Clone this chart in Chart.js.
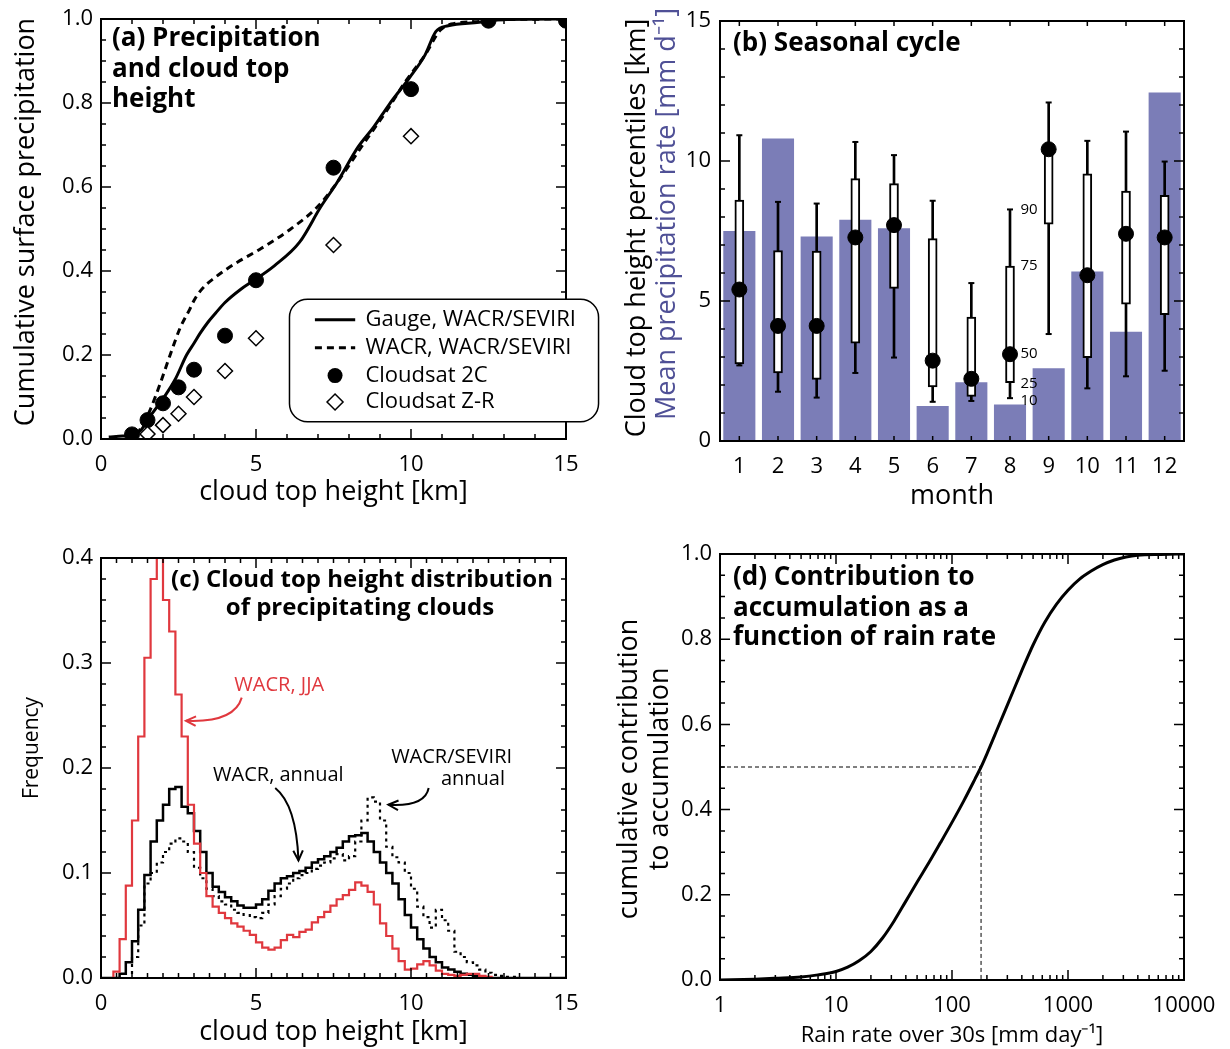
<!DOCTYPE html>
<html>
<head>
<meta charset="utf-8">
<title>Precipitation and cloud top height</title>
<script src="https://cdn.jsdelivr.net/npm/chart.js@4.4.1/dist/chart.umd.min.js"></script>
<style>
  html, body { margin: 0; padding: 0; background: #fff; }
  #page { position: relative; width: 1230px; height: 1049px; overflow: hidden; }
  #page canvas { position: absolute; }
</style>
</head>
<body>
<div id="page">
  <canvas id="panelA" width="615" height="530" style="left:0px;top:0px"></canvas>
  <canvas id="panelB" width="615" height="530" style="left:615px;top:0px"></canvas>
  <canvas id="panelC" width="615" height="519" style="left:0px;top:530px"></canvas>
  <canvas id="panelD" width="615" height="519" style="left:615px;top:530px"></canvas>
</div>
<script>
// ---------- (a) cumulative precipitation vs cloud top height ----------
var gaugeKm   = [0.25, 0.7, 1.05, 1.3, 1.5, 2.0, 2.4, 2.76, 3.0, 3.2, 3.45, 3.7, 4.0, 4.5, 4.9, 5.6, 6.4, 7.1, 7.6, 8.3, 8.8, 9.3, 9.95, 10.45, 10.8, 11.2, 12.2, 12.8, 15];
var gaugeFrac = [0.005, 0.007, 0.01, 0.022, 0.045, 0.096, 0.143, 0.2, 0.228, 0.252, 0.278, 0.30, 0.325, 0.356, 0.376, 0.413, 0.468, 0.554, 0.609, 0.696, 0.743, 0.797, 0.86, 0.914, 0.97, 0.984, 0.992, 0.998, 1.0];
var wacrKm    = [1.15, 1.4, 1.58, 1.9, 2.23, 2.55, 2.87, 3.0, 3.2, 3.4, 3.65, 4.0, 4.4, 5.13, 6.1, 7.0, 7.6, 8.47, 9.2, 9.83, 10.45, 10.94, 11.3, 12.2, 12.8, 15];
var wacrFrac  = [0.01, 0.04, 0.068, 0.13, 0.2, 0.264, 0.31, 0.33, 0.352, 0.368, 0.383, 0.402, 0.421, 0.452, 0.499, 0.554, 0.609, 0.703, 0.78, 0.852, 0.914, 0.973, 0.988, 0.994, 0.998, 1.0];
var sat2cKm   = [1.0, 1.5, 2.0, 2.5, 3.0, 4.0, 5.0, 7.5, 10.0, 12.5, 15.0];
var sat2cFrac = [0.011, 0.045, 0.085, 0.123, 0.165, 0.246, 0.378, 0.646, 0.833, 0.996, 0.996];
var satZrKm   = [1.5, 2.0, 2.5, 3.0, 4.0, 5.0, 7.5, 10.0];
var satZrFrac = [0.012, 0.033, 0.06, 0.10, 0.162, 0.24, 0.462, 0.721];

// ---------- (b) seasonal cycle ----------
var months     = ['1', '2', '3', '4', '5', '6', '7', '8', '9', '10', '11', '12'];
var precipRate = [7.5, 10.8, 7.3, 7.9, 7.6, 1.25, 2.1, 1.3, 2.6, 6.05, 3.9, 12.45];
var cth10 = [2.7, 1.76, 1.55, 2.43, 2.98, 1.40, 1.43, 1.53, 3.82, 1.88, 2.31, 2.51];
var cth25 = [2.75, 2.43, 2.2, 3.49, 5.45, 1.93, 1.59, 2.08, 7.74, 2.98, 4.89, 4.51];
var cth50 = [5.41, 4.11, 4.11, 7.27, 7.71, 2.87, 2.22, 3.10, 10.42, 5.92, 7.40, 7.27];
var cth75 = [8.6, 6.8, 6.78, 9.37, 9.19, 7.23, 4.43, 6.25, 10.6, 9.54, 8.93, 8.77];
var cth90 = [10.92, 8.54, 8.48, 10.68, 10.21, 8.58, 5.64, 8.27, 12.09, 10.72, 11.05, 9.98];
var pctLabels = ['90', '75', '50', '25', '10'];

// ---------- (c) cloud top height distribution (0.2 km bins, left edges) ----------
var binLeft = [0, 0.2, 0.4, 0.6, 0.8, 1.0, 1.2, 1.4, 1.6, 1.8, 2.0, 2.2, 2.4, 2.6, 2.8, 3.0, 3.2, 3.4, 3.6, 3.8,
  4.0, 4.2, 4.4, 4.6, 4.8, 5.0, 5.2, 5.4, 5.6, 5.8, 6.0, 6.2, 6.4, 6.6, 6.8, 7.0, 7.2, 7.4, 7.6, 7.8,
  8.0, 8.2, 8.4, 8.6, 8.8, 9.0, 9.2, 9.4, 9.6, 9.8, 10.0, 10.2, 10.4, 10.6, 10.8, 11.0, 11.2, 11.4, 11.6, 11.8,
  12.0, 12.2, 12.4, 12.6, 12.8, 13.0, 13.2, 13.4, 13.6, 13.8, 14.0, 14.2, 14.4, 14.6, 14.8, 15.0];
var freqJJA = [0, 0, 0.006, 0.037, 0.088, 0.15, 0.23, 0.305, 0.38, 0.40, 0.36, 0.33, 0.27, 0.23, 0.165, 0.128, 0.10, 0.078, 0.068, 0.062,
  0.057, 0.052, 0.049, 0.045, 0.041, 0.034, 0.029, 0.027, 0.029, 0.036, 0.041, 0.039, 0.044, 0.046, 0.053, 0.058, 0.063, 0.069, 0.075, 0.079,
  0.084, 0.091, 0.088, 0.082, 0.07, 0.052, 0.04, 0.028, 0.016, 0.008, 0.009, 0.013, 0.016, 0.012, 0.007, 0.004, 0.003, 0.002, 0.003, 0.004,
  0.004, 0.002, 0.001, 0, 0, 0, 0, 0, 0, 0, 0, 0, 0, 0, 0, 0];
var freqAnnual = [0, 0, 0, 0.004, 0.015, 0.035, 0.065, 0.098, 0.13, 0.15, 0.165, 0.18, 0.182, 0.163, 0.157, 0.14, 0.12, 0.10, 0.087, 0.082,
  0.077, 0.073, 0.069, 0.067, 0.067, 0.07, 0.075, 0.083, 0.09, 0.095, 0.097, 0.1, 0.102, 0.105, 0.11, 0.113, 0.116, 0.12, 0.124, 0.13,
  0.135, 0.136, 0.138, 0.13, 0.12, 0.11, 0.1, 0.09, 0.075, 0.06, 0.048, 0.037, 0.028, 0.02, 0.015, 0.01, 0.008, 0.006, 0.004, 0.003,
  0.002, 0.001, 0, 0, 0, 0, 0, 0, 0, 0, 0, 0, 0, 0, 0, 0];
var freqSeviri = [0, 0, 0, 0, 0, 0.02, 0.05, 0.09, 0.1, 0.11, 0.12, 0.128, 0.133, 0.13, 0.12, 0.105, 0.095, 0.085, 0.078, 0.073,
  0.07, 0.065, 0.062, 0.06, 0.058, 0.057, 0.062, 0.07, 0.078, 0.085, 0.09, 0.095, 0.098, 0.1, 0.104, 0.107, 0.11, 0.114, 0.118, 0.112,
  0.116, 0.13, 0.15, 0.172, 0.168, 0.15, 0.125, 0.115, 0.11, 0.1, 0.085, 0.068, 0.058, 0.048, 0.065, 0.055, 0.045, 0.025, 0.02, 0.015,
  0.012, 0.008, 0.005, 0.003, 0.002, 0.001, 0.001, 0, 0, 0, 0, 0, 0, 0, 0, 0];

// ---------- (d) contribution to accumulation ----------
var rainRate   = [1, 2, 3, 5, 7, 10, 12.6, 15.8, 20, 25.1, 31.6, 39.8, 50.1, 63.1, 79.4, 100, 126, 158, 178, 200,
  251, 316, 398, 501, 631, 794, 1000, 1259, 1585, 1995, 2512, 3162, 3981, 6310, 10000];
var contribCum = [0, 0.002, 0.004, 0.007, 0.012, 0.02, 0.03, 0.045, 0.067, 0.098, 0.138, 0.184, 0.23, 0.275, 0.322, 0.37, 0.42, 0.472, 0.5, 0.531,
  0.595, 0.66, 0.725, 0.787, 0.84, 0.882, 0.915, 0.941, 0.96, 0.975, 0.986, 0.993, 0.997, 0.999, 1.0];
var halfRate = 178;

// tick values
var kmMajor = [0, 5, 10, 15];
var kmMinor = [1, 2, 3, 4, 6, 7, 8, 9, 11, 12, 13, 14];
var kmHalfMinor = [0.5, 1, 1.5, 2, 2.5, 3, 3.5, 4, 4.5, 5.5, 6, 6.5, 7, 7.5, 8, 8.5, 9, 9.5, 10.5, 11, 11.5, 12, 12.5, 13, 13.5, 14, 14.5];
var fracMajor = [0, 0.2, 0.4, 0.6, 0.8, 1.0];
var fracMinor = [0.05, 0.1, 0.15, 0.25, 0.3, 0.35, 0.45, 0.5, 0.55, 0.65, 0.7, 0.75, 0.85, 0.9, 0.95];
var freqMajor = [0, 0.1, 0.2, 0.3, 0.4];
var freqMinor = [0.02, 0.04, 0.06, 0.08, 0.12, 0.14, 0.16, 0.18, 0.22, 0.24, 0.26, 0.28, 0.32, 0.34, 0.36, 0.38];
var cthMajor = [0, 5, 10, 15];
var rateMajor = [1, 10, 100, 1000, 10000];
var rateMinor = [2, 3, 4, 5, 6, 7, 8, 9, 20, 30, 40, 50, 60, 70, 80, 90, 200, 300, 400, 500, 600, 700, 800, 900,
  2000, 3000, 4000, 5000, 6000, 7000, 8000, 9000];

var RED = '#e0383e';
var BAR = '#7b7db7';
var BLUE_TEXT = '#4f5096';
var FONT = '"Open Sans", sans-serif';

Chart.defaults.font.family = FONT;
Chart.defaults.color = '#000';

function pairs(xs, ys) {
  return xs.map(function (x, i) { return { x: x, y: ys[i] }; });
}
function useTicks(values) {
  return function (scale) { scale.ticks = values.map(function (v) { return { value: v }; }); };
}
// fixed axis size, no extra room for overhanging end labels
function fixWidth(w) {
  return function (scale) {
    scale.width = w;
    scale.paddingTop = 0; scale.paddingBottom = 0; scale.paddingLeft = 0; scale.paddingRight = 0;
  };
}
function fixHeight(h) {
  return function (scale) {
    scale.height = h;
    scale.paddingTop = 0; scale.paddingBottom = 0; scale.paddingLeft = 0; scale.paddingRight = 0;
  };
}

// box with inward ticks on all four sides
function frame(xMajor, xMinor, yMajor, yMinor) {
  return {
    id: 'frame',
    afterDatasetsDraw: function (chart) {
      var ctx = chart.ctx, a = chart.chartArea, sx = chart.scales.x, sy = chart.scales.y;
      ctx.save();
      ctx.strokeStyle = '#000';
      ctx.lineWidth = 1.5;
      ctx.beginPath();
      [[xMajor, 10], [xMinor, 5]].forEach(function (set) {
        set[0].forEach(function (v) {
          var p = sx.getPixelForValue(v);
          ctx.moveTo(p, a.bottom); ctx.lineTo(p, a.bottom - set[1]);
          ctx.moveTo(p, a.top); ctx.lineTo(p, a.top + set[1]);
        });
      });
      [[yMajor, 10], [yMinor, 5]].forEach(function (set) {
        set[0].forEach(function (v) {
          var p = sy.getPixelForValue(v);
          ctx.moveTo(a.left, p); ctx.lineTo(a.left + set[1], p);
          ctx.moveTo(a.right, p); ctx.lineTo(a.right - set[1], p);
        });
      });
      ctx.stroke();
      ctx.lineWidth = 2;
      ctx.strokeRect(a.left, a.top, a.right - a.left, a.bottom - a.top);
      ctx.restore();
    }
  };
}

// free text and arrows; positions are data values, chart-area offsets or canvas pixels
function notes(items, arrows) {
  return {
    id: 'notes',
    afterDraw: function (chart) {
      var ctx = chart.ctx, a = chart.chartArea, sx = chart.scales.x, sy = chart.scales.y;
      function place(it) {
        if (it.data) return [sx.getPixelForValue(it.data[0]), sy.getPixelForValue(it.data[1])];
        if (it.area) return [a.left + it.area[0], a.top + it.area[1]];
        return it.at;
      }
      items.forEach(function (it) {
        var p = place(it);
        ctx.save();
        ctx.font = it.font;
        ctx.fillStyle = it.color || '#000';
        ctx.textAlign = it.align || 'center';
        ctx.textBaseline = 'middle';
        ctx.translate(p[0], p[1]);
        if (it.rotate) ctx.rotate(it.rotate * Math.PI / 180);
        ctx.fillText(it.text, 0, 0);
        ctx.restore();
      });
      (arrows || []).forEach(function (ar) {
        var p0 = [sx.getPixelForValue(ar.pts[0][0]), sy.getPixelForValue(ar.pts[0][1])];
        var pc = [sx.getPixelForValue(ar.pts[1][0]), sy.getPixelForValue(ar.pts[1][1])];
        var p1 = [sx.getPixelForValue(ar.pts[2][0]), sy.getPixelForValue(ar.pts[2][1])];
        ctx.save();
        ctx.strokeStyle = ar.color;
        ctx.lineWidth = 2;
        ctx.beginPath();
        ctx.moveTo(p0[0], p0[1]);
        ctx.quadraticCurveTo(pc[0], pc[1], p1[0], p1[1]);
        ctx.stroke();
        var ang = Math.atan2(p1[1] - pc[1], p1[0] - pc[0]);
        ctx.beginPath();
        ctx.moveTo(p1[0] - 11 * Math.cos(ang - 0.45), p1[1] - 11 * Math.sin(ang - 0.45));
        ctx.lineTo(p1[0], p1[1]);
        ctx.lineTo(p1[0] - 11 * Math.cos(ang + 0.45), p1[1] - 11 * Math.sin(ang + 0.45));
        ctx.stroke();
        ctx.restore();
      });
    }
  };
}

var tickFont = { family: FONT, size: 22 };
var titleFont = { family: FONT, size: 27 };
var panelFont = 'bold 26px ' + FONT;
var sideFont = '27px ' + FONT;
var noteFont = '20px ' + FONT;

// legend for panel (a)
var legendA = {
  id: 'legendA',
  afterDraw: function (chart) {
    var ctx = chart.ctx, sx = chart.scales.x, sy = chart.scales.y;
    var left = sx.getPixelForValue(6.08), right = sx.getPixelForValue(16.05);
    var top = sy.getPixelForValue(0.333), bottom = sy.getPixelForValue(0.041);
    var rows = [0.284, 0.217, 0.151, 0.088];
    var names = ['Gauge, WACR/SEVIRI', 'WACR, WACR/SEVIRI', 'Cloudsat 2C', 'Cloudsat Z-R'];
    var s0 = sx.getPixelForValue(6.9), s1 = sx.getPixelForValue(8.2), tx = sx.getPixelForValue(8.53);
    ctx.save();
    ctx.beginPath();
    ctx.roundRect(left, top, right - left, bottom - top, 18);
    ctx.fillStyle = '#fff';
    ctx.fill();
    ctx.lineWidth = 1.5;
    ctx.strokeStyle = '#000';
    ctx.stroke();
    rows.forEach(function (r, i) {
      var y = sy.getPixelForValue(r);
      ctx.strokeStyle = '#000';
      ctx.fillStyle = '#000';
      ctx.lineWidth = 3;
      if (i < 2) {
        ctx.setLineDash(i === 1 ? [7, 5] : []);
        ctx.beginPath(); ctx.moveTo(s0, y); ctx.lineTo(s1, y); ctx.stroke();
        ctx.setLineDash([]);
      } else if (i === 2) {
        ctx.beginPath(); ctx.arc((s0 + s1) / 2, y, 7.5, 0, Math.PI * 2); ctx.fill();
      } else {
        var cx = (s0 + s1) / 2;
        ctx.lineWidth = 1.5;
        ctx.fillStyle = '#fff';
        ctx.beginPath();
        ctx.moveTo(cx, y - 8); ctx.lineTo(cx + 8, y); ctx.lineTo(cx, y + 8); ctx.lineTo(cx - 8, y); ctx.closePath();
        ctx.fill(); ctx.stroke();
      }
      ctx.fillStyle = '#000';
      ctx.font = '22px ' + FONT;
      ctx.textAlign = 'left';
      ctx.textBaseline = 'middle';
      ctx.fillText(names[i], tx, y);
    });
    ctx.restore();
  }
};

// ---------- panel (a) ----------
new Chart(document.getElementById('panelA'), {
  type: 'scatter',
  data: {
    datasets: [
      { data: pairs(gaugeKm, gaugeFrac), showLine: true, borderColor: '#000', borderWidth: 3, pointRadius: 0, cubicInterpolationMode: 'monotone', order: 3 },
      { data: pairs(wacrKm, wacrFrac), showLine: true, borderColor: '#000', borderWidth: 3, borderDash: [7, 5], pointRadius: 0, cubicInterpolationMode: 'monotone', order: 2 },
      { data: pairs(sat2cKm, sat2cFrac), pointRadius: 7.5, pointBackgroundColor: '#000', pointBorderColor: '#000', order: 1 },
      { data: pairs(satZrKm, satZrFrac), pointStyle: 'rectRot', pointRadius: 7.5, pointBackgroundColor: '#fff', pointBorderColor: '#000', pointBorderWidth: 1.5, order: 0 }
    ]
  },
  options: {
    responsive: false,
    animation: false,
    layout: { padding: { top: 19, right: 49, left: 0, bottom: 0 } },
    plugins: { legend: { display: false }, tooltip: { enabled: false } },
    scales: {
      x: {
        type: 'linear', min: 0, max: 15,
        afterBuildTicks: useTicks(kmMajor), afterFit: fixHeight(91),
        grid: { display: false, drawTicks: false }, border: { display: false },
        ticks: { font: tickFont, padding: 13, maxRotation: 0 },
        title: { display: true, text: 'cloud top height [km]', font: titleFont, padding: { top: 21, bottom: 21 } }
      },
      y: {
        type: 'linear', min: 0, max: 1,
        afterBuildTicks: useTicks(fracMajor), afterFit: fixWidth(101),
        grid: { display: false, drawTicks: false }, border: { display: false },
        ticks: { font: tickFont, padding: 8, callback: function (v) { return v.toFixed(1); } }
      }
    }
  },
  plugins: [
    frame(kmMajor, kmMinor, fracMajor, fracMinor),
    notes([
      { text: '(a) Precipitation', area: [11, 20], font: panelFont, align: 'left' },
      { text: 'and cloud top', area: [11, 51], font: panelFont, align: 'left' },
      { text: 'height', area: [11, 81], font: panelFont, align: 'left' },
      { text: 'Cumulative surface precipitation', at: [26, 222], font: sideFont, rotate: -90 }
    ]),
    legendA
  ]
});

// ---------- panel (b) ----------
var monthIdx = months.map(function (m, i) { return i; });
new Chart(document.getElementById('panelB'), {
  type: 'bar',
  data: {
    labels: months,
    datasets: [
      { type: 'bar', data: precipRate, backgroundColor: BAR, barPercentage: 0.83, categoryPercentage: 1, grouped: false, order: 5 },
      { type: 'bar', data: cth10.map(function (v, i) { return [v, cth90[i]]; }), backgroundColor: '#000', barThickness: 2, grouped: false, order: 4 },
      { type: 'bar', data: cth25.map(function (v, i) { return [v, cth75[i]]; }), backgroundColor: '#fff', borderColor: '#000', borderWidth: 2, borderSkipped: false, barThickness: 9, grouped: false, order: 3 },
      { type: 'line', data: cth10, showLine: false, pointStyle: 'line', pointRadius: 3, borderColor: '#000', pointBorderWidth: 2, order: 2 },
      { type: 'line', data: cth90, showLine: false, pointStyle: 'line', pointRadius: 3, borderColor: '#000', pointBorderWidth: 2, order: 2 },
      { type: 'line', data: cth50, showLine: false, pointRadius: 7.5, pointBackgroundColor: '#000', pointBorderColor: '#000', order: 1 }
    ]
  },
  options: {
    responsive: false,
    animation: false,
    layout: { padding: { top: 21, right: 46, left: 0, bottom: 0 } },
    plugins: { legend: { display: false }, tooltip: { enabled: false } },
    scales: {
      x: {
        afterFit: fixHeight(89),
        grid: { display: false, drawTicks: false }, border: { display: false },
        ticks: { font: tickFont, padding: 13, maxRotation: 0, autoSkip: false },
        title: { display: true, text: 'month', font: titleFont, padding: { top: 17, bottom: 17 } }
      },
      y: {
        type: 'linear', min: 0, max: 15,
        afterBuildTicks: useTicks(cthMajor), afterFit: fixWidth(105),
        grid: { display: false, drawTicks: false }, border: { display: false },
        ticks: { font: tickFont, padding: 9 }
      }
    }
  },
  plugins: [
    frame([], monthIdx, cthMajor, kmMinor),
    notes([
      { text: '(b) Seasonal cycle', area: [13, 23], font: panelFont, align: 'left' },
      { text: 'Cloud top height percentiles [km]', at: [22, 228], font: sideFont, rotate: -90 },
      { text: 'Mean precipitation rate [mm d\u207B\u00B9]', at: [52, 214], font: sideFont, rotate: -90, color: BLUE_TEXT },
      { text: pctLabels[0], data: [7.27, cth90[7]], font: '15px ' + FONT, align: 'left' },
      { text: pctLabels[1], data: [7.27, cth75[7]], font: '15px ' + FONT, align: 'left' },
      { text: pctLabels[2], data: [7.27, cth50[7]], font: '15px ' + FONT, align: 'left' },
      { text: pctLabels[3], data: [7.27, cth25[7] - 0.05], font: '15px ' + FONT, align: 'left' },
      { text: pctLabels[4], data: [7.27, cth10[7] - 0.1], font: '15px ' + FONT, align: 'left' }
    ])
  ]
});

// ---------- panel (c) ----------
new Chart(document.getElementById('panelC'), {
  type: 'scatter',
  data: {
    datasets: [
      { data: pairs(binLeft, freqJJA), showLine: true, stepped: true, borderColor: RED, borderWidth: 2.2, pointRadius: 0, order: 0 },
      { data: pairs(binLeft, freqAnnual), showLine: true, stepped: true, borderColor: '#000', borderWidth: 2.5, pointRadius: 0, order: 1 },
      { data: pairs(binLeft, freqSeviri), showLine: true, stepped: true, borderColor: '#000', borderWidth: 2.2, borderDash: [3, 4], pointRadius: 0, order: 2 }
    ]
  },
  options: {
    responsive: false,
    animation: false,
    layout: { padding: { top: 28, right: 49, left: 0, bottom: 0 } },
    plugins: { legend: { display: false }, tooltip: { enabled: false } },
    scales: {
      x: {
        type: 'linear', min: 0, max: 15,
        afterBuildTicks: useTicks(kmMajor), afterFit: fixHeight(71),
        grid: { display: false, drawTicks: false }, border: { display: false },
        ticks: { font: tickFont, padding: 13, maxRotation: 0 },
        title: { display: true, text: 'cloud top height [km]', font: titleFont, padding: { top: 0, bottom: 0 } }
      },
      y: {
        type: 'linear', min: 0, max: 0.4,
        afterBuildTicks: useTicks(freqMajor), afterFit: fixWidth(101),
        grid: { display: false, drawTicks: false }, border: { display: false },
        ticks: { font: tickFont, padding: 8, callback: function (v) { return v.toFixed(1); } }
      }
    }
  },
  plugins: [
    frame(kmMajor, kmHalfMinor, freqMajor, freqMinor),
    notes([
      { text: '(c) Cloud top height distribution', area: [261, 22], font: 'bold 24px ' + FONT },
      { text: 'of precipitating clouds', area: [259, 50], font: 'bold 24px ' + FONT },
      { text: 'Frequency', at: [32, 218], font: '21px ' + FONT, rotate: -90 },
      { text: 'WACR, JJA', data: [5.75, 0.279], font: noteFont, color: RED },
      { text: 'WACR, annual', data: [5.72, 0.193], font: noteFont },
      { text: 'WACR/SEVIRI', data: [11.31, 0.2105], font: noteFont },
      { text: 'annual', data: [12.0, 0.189], font: noteFont }
    ], [
      { color: RED, pts: [[4.54, 0.267], [4.3, 0.243], [2.74, 0.245]] },
      { color: '#000', pts: [[5.62, 0.181], [6.3, 0.165], [6.37, 0.112]] },
      { color: '#000', pts: [[10.57, 0.181], [10.45, 0.163], [9.27, 0.165]] }
    ])
  ]
});

// ---------- panel (d) ----------
new Chart(document.getElementById('panelD'), {
  type: 'scatter',
  data: {
    datasets: [
      { data: pairs(rainRate, contribCum), showLine: true, borderColor: '#000', borderWidth: 3, pointRadius: 0, cubicInterpolationMode: 'monotone', order: 0 },
      { data: [{ x: 1, y: 0.5 }, { x: halfRate, y: 0.5 }, { x: halfRate, y: 0 }], showLine: true, borderColor: '#000', borderWidth: 1, borderDash: [4, 3], pointRadius: 0, order: 1 }
    ]
  },
  options: {
    responsive: false,
    animation: false,
    layout: { padding: { top: 24, right: 46, left: 0, bottom: 0 } },
    plugins: { legend: { display: false }, tooltip: { enabled: false } },
    scales: {
      x: {
        type: 'logarithmic', min: 1, max: 10000,
        afterBuildTicks: useTicks(rateMajor), afterFit: fixHeight(69),
        grid: { display: false, drawTicks: false }, border: { display: false },
        ticks: { font: tickFont, padding: 13, maxRotation: 0, callback: function (v) { return String(v); } },
        title: { display: true, text: 'Rain rate over 30s [mm day\u207B\u00B9]', font: { family: FONT, size: 22 }, padding: { top: 0, bottom: 0 } }
      },
      y: {
        type: 'linear', min: 0, max: 1,
        afterBuildTicks: useTicks(fracMajor), afterFit: fixWidth(105),
        grid: { display: false, drawTicks: false }, border: { display: false },
        ticks: { font: tickFont, padding: 8, callback: function (v) { return v.toFixed(1); } }
      }
    }
  },
  plugins: [
    frame(rateMajor, rateMinor, fracMajor, fracMinor),
    notes([
      { text: '(d) Contribution to', area: [13, 24], font: panelFont, align: 'left' },
      { text: 'accumulation as a', area: [13, 55], font: panelFont, align: 'left' },
      { text: 'function of rain rate', area: [13, 84], font: panelFont, align: 'left' },
      { text: 'cumulative contribution', at: [14, 239], font: sideFont, rotate: -90 },
      { text: 'to accumulation', at: [45, 239], font: sideFont, rotate: -90 }
    ])
  ]
});
</script>
</body>
</html>
